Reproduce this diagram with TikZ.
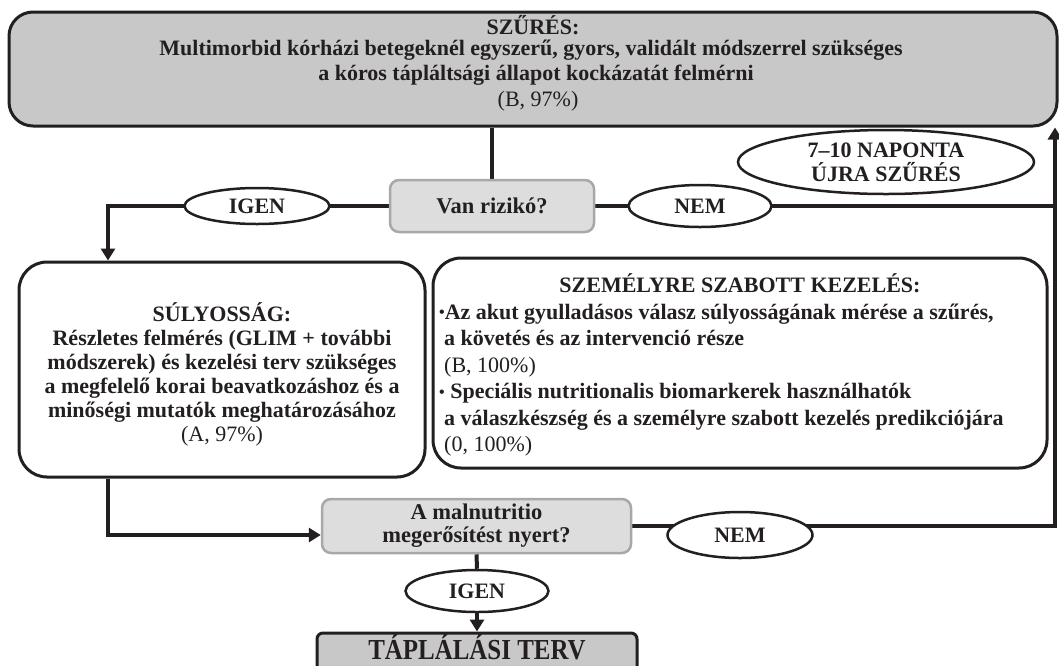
\documentclass[tikz,border=0pt]{standalone}
\usepackage{fontspec}
\setmainfont{Liberation Serif}
\usetikzlibrary{shapes.geometric,arrows.meta,positioning}

\definecolor{ink}{RGB}{35,31,32}
\definecolor{boxgray}{RGB}{200,200,200}
\definecolor{qgray}{RGB}{221,221,222}
\definecolor{qedge}{RGB}{168,168,170}

\pgfdeclarelayer{bg}
\pgfsetlayers{bg,main}

\newcommand{\pont}{{\fontsize{16}{16}\selectfont\raisebox{1.5pt}{•}}}

\tikzset{
  bigbox/.style={draw=ink, line width=3pt, rounded corners=24pt, fill=boxgray},
  textbox/.style={draw=ink, line width=3pt, rounded corners=28pt, fill=white},
  qbox/.style={draw=qedge, line width=2.5pt, rounded corners=9pt, fill=qgray,
    text=ink, align=center, font=\bfseries\fontsize{22.5}{23}\selectfont},
  answer/.style={draw=ink, ellipse, line width=2.5pt, fill=white, inner sep=0pt,
    text=ink, align=center, font=\bfseries\fontsize{22}{24}\selectfont},
  txt/.style={inner sep=0pt, text=ink, font=\bfseries\fontsize{22}{25}\selectfont},
  reftxt/.style={inner sep=0pt, text=ink, font=\fontsize{22}{25}\selectfont},
  conn/.style={draw=ink, line width=4pt},
  arr/.style={conn, -{Triangle[length=12pt,width=14pt]}},
}

\begin{document}
\begin{tikzpicture}[x=1pt,y=-1pt]
\useasboundingbox (0,0) rectangle (1059,665);

% screening
\node[bigbox, minimum width=1048pt, minimum height=114pt] (szures) at (533,69) {};
\node[txt] (szurescim) at (533,25) {SZŰRÉS:};
\node[txt] (szures1) at (531,50) {Multimorbid kórházi betegeknél egyszerű, gyors, validált módszerrel szükséges};
\node[txt] (szures2) at (536,75) {a kóros tápláltsági állapot kockázatát felmérni};
\node[reftxt] (szuresB) at (538,101) {(B, 97\%)};

% first question
\node[qbox, minimum width=204pt, minimum height=52pt] (rizika) at (492,206) {Van rizikó?};
\node[answer, minimum width=145pt, minimum height=36pt] (igen1) at (257,206) {IGEN};
\node[answer, minimum width=143pt, minimum height=42pt] (nem1) at (700,206) {NEM};
\node[answer, minimum width=296pt, minimum height=64pt] (naponta) at (886,162) {7–10 NAPONTA\\ÚJRA SZŰRÉS};

% severity and personalised care
\node[textbox, minimum width=406pt, minimum height=215pt] (sulyossag) at (222,369.5) {};
\node[txt, align=center, font=\bfseries\fontsize{22}{24}\selectfont] (sulyossagszoveg) at (222,374)
  {SÚLYOSSÁG:\\Részletes felmérés (GLIM + további\\módszerek) és kezelési terv szükséges\\a megfelelő korai beavatkozáshoz és a\\minőségi mutatók meghatározásához\\{\mdseries(A, 97\%)}};
\node[textbox, minimum width=614pt, minimum height=210pt] (szemelyre) at (740,363) {};
\node[txt] (szemelyrecim) at (740,283) {SZEMÉLYRE SZABOTT KEZELÉS:};
\node[txt, anchor=west, align=left, font=\bfseries\fontsize{22}{26.5}\selectfont] (szemelyre1) at (439,380)
  {\pont Az akut gyulladásos válasz súlyosságának mérése a szűrés,\\
   \hspace*{5pt}a követés és az intervenció része\\
   \hspace*{5pt}{\mdseries(B, 100\%)}\\
   \pont\ Speciális nutritionalis biomarkerek használhatók\\
   \hspace*{5pt}a válaszkészség és a személyre szabott kezelés predikciójára\\
   \hspace*{5pt}{\mdseries(0, 100\%)}};

% second question
\node[qbox, minimum width=309pt, minimum height=54pt] (malnut) at (476.5,526) {A malnutritio\\megerősítést nyert?};
\node[answer, minimum width=143pt, minimum height=42pt] (igen2) at (477,591) {IGEN};
\node[answer, minimum width=145pt, minimum height=46pt] (nem2) at (740,535) {NEM};
\node[draw=ink, line width=3pt, rounded corners=6pt, fill=boxgray,
  minimum width=320pt, minimum height=44pt] (terv) at (477,655) {};
\node[txt, anchor=base, font=\bfseries\fontsize{29}{30}\selectfont] (tervszoveg) at (477,659)
  {\scalebox{0.86}[1]{TÁPLÁLÁSI TERV}};

\coordinate (balfent) at (108,206);
\coordinate (jobbfent) at (1055,206);
\coordinate (balfent2) at (108,535);
\coordinate (jobblent) at (1055,526);

\begin{pgfonlayer}{bg}
\draw[conn] (szures.south -| rizika.north) -- (rizika.north);
\draw[arr] (rizika.west) -- (balfent) -- (balfent |- sulyossag.north);
\draw[conn] (rizika.east) -- (jobbfent);
\draw[arr] (malnut.east) -- (jobblent) -- (jobbfent |- szures.south);
\draw[arr] (balfent |- sulyossag.south) -- (balfent2) -- (malnut.west |- balfent2);
\draw[conn] (malnut.south) -- (igen2.north);
\draw[arr] (igen2.south) -- (terv.north);
\end{pgfonlayer}
\end{tikzpicture}
\end{document}
